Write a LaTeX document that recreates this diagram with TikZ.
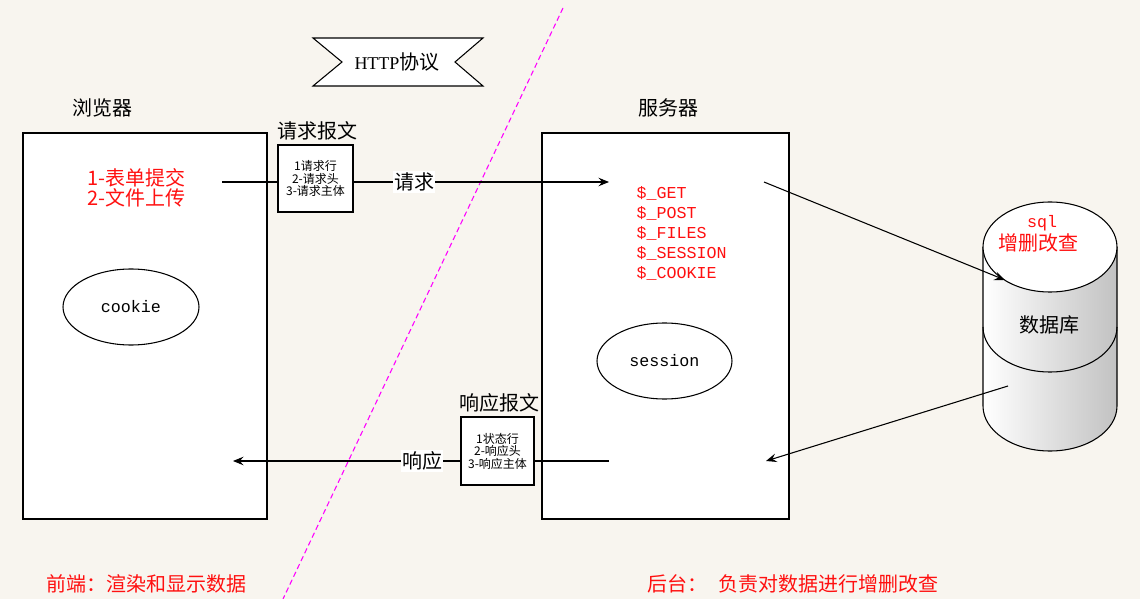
\documentclass[tikz,border=0pt]{standalone}
\usepackage{fontspec}
\setmainfont{Noto Sans CJK SC}
\newfontfamily\monof{Liberation Mono}
\newfontfamily\serf{Liberation Serif}
\usetikzlibrary{arrows.meta,shapes.geometric}
\definecolor{bg}{HTML}{F8F5EF}
\definecolor{dbgray}{HTML}{C2C2C2}
\definecolor{mag}{HTML}{FF00FF}
\definecolor{txtred}{HTML}{FF1010}
\begin{document}
\begin{tikzpicture}[x=0.75pt,y=-0.75pt,line width=0.8pt,
  box/.style={draw=black,fill=white,inner sep=0pt},
  oval/.style={draw=black,fill=white,ellipse,inner sep=0pt,font=\monof\fontsize{12.5}{14}\selectfont},
  title/.style={font=\fontsize{15}{17}\selectfont,text=black,inner sep=0pt},
  redtxt/.style={font=\fontsize{15}{13.5}\selectfont,text=txtred,inner sep=0pt},
  pkt/.style={box,align=center,font=\fontsize{9}{8.25}\selectfont},
  arr/.style={draw=black,line width=0.8pt,-{Stealth[length=8pt,width=6.5pt,inset=3pt]}},
  lbl/.style={fill=white,inner sep=1pt,font=\fontsize{15}{17}\selectfont}
]
\fill[bg] (0,0) rectangle (1140,599);
\useasboundingbox (0,0) rectangle (1140,599);

% divider
\draw[mag,line width=0.8pt,dash pattern=on 4pt off 2.5pt] (563,8) coordinate (dtop) -- (283,599) coordinate (dbot);

% main boxes
\node[box,minimum width=183pt,minimum height=289.5pt] (browser) at (145,326) {};
\node[box,minimum width=185.25pt,minimum height=289.5pt] (server) at (665.5,326) {};
\node[title] (browserlbl) at (102,108) {浏览器};
\node[title] (serverlbl) at (668,108) {服务器};

% browser contents
\node[redtxt,anchor=west,align=left] (form) at (87,188) {1-表单提交\\2-文件上传};
\node[oval,minimum width=102pt,minimum height=57pt] (cookie) at (131,307) {cookie};

% server contents
\node[anchor=west,align=left,inner sep=0pt,text=txtred,font=\monof\fontsize{12.5}{15}\selectfont] (vars) at (636,233)
  {\$\_GET\\\$\_POST\\\$\_FILES\\\$\_SESSION\\\$\_COOKIE};
\node[oval,minimum width=101.25pt,minimum height=57pt] (session) at (664.5,361) {session};

% request
\coordinate (reqA) at (222,182);
\coordinate (reqB) at (609,182);
\draw[arr] (reqA) -- (reqB);
\node[lbl] (reqlbl) at (414,182) {请求};
\node[pkt,minimum width=56.25pt,minimum height=50.25pt] (reqpkt) at (315.5,178.5) {1请求行\\2-请求头\\3-请求主体};
\node[title] (reqpktlbl) at (317,131) {请求报文};

% response
\coordinate (resA) at (609,461);
\coordinate (resB) at (233,461);
\draw[arr] (resA) -- (resB);
\node[lbl] (reslbl) at (422,461) {响应};
\node[pkt,minimum width=54.75pt,minimum height=51pt] (respkt) at (497.5,451) {1状态行\\2-响应头\\3-响应主体};
\node[title] (respktlbl) at (499,403) {响应报文};

% HTTP banner
\draw[fill=white,line width=0.8pt] (313,38) -- (483,38) -- (455,62) -- (483,86) -- (313,86) -- (342,62) -- cycle;
\node[inner sep=0pt] (http) at (397,62) {{\serf\fontsize{13.5}{15}\selectfont HTTP}{\fontsize{15}{17}\selectfont 协议}};

% database cylinder
\shade[left color=white,right color=dbgray]
  (983,247) -- (983,406) arc[start angle=180,end angle=360,x radius=50.25pt,y radius=33.75pt] -- (1117,247) -- cycle;
\draw (983,247) -- (983,406) arc[start angle=180,end angle=360,x radius=50.25pt,y radius=33.75pt] -- (1117,247);
\draw (983,327) arc[start angle=180,end angle=360,x radius=50.25pt,y radius=33.75pt];
\draw[fill=white] (1050,247) ellipse[x radius=50.25pt,y radius=33.75pt];
\node[inner sep=0pt,text=txtred,font=\monof\fontsize{12.5}{14}\selectfont] (sql) at (1042,223) {sql};
\node[inner sep=0pt,text=txtred,font=\fontsize{15}{17}\selectfont] (crud) at (1038,243) {增删改查};
\node[title] (db) at (1049,325) {数据库};

% server <-> db
\coordinate (svout) at (764,182);
\coordinate (dbin) at (1005,280);
\draw[arr] (svout) -- (dbin);
\coordinate (dbout) at (1008,386);
\coordinate (svin) at (766,461);
\draw[arr] (dbout) -- (svin);

% bottom captions
\node[redtxt,anchor=west] (front) at (46,584) {前端：渲染和显示数据};
\node[redtxt,anchor=west] (back) at (647,584) {后台：\hspace{8pt}负责对数据进行增删改查};
\end{tikzpicture}
\end{document}
